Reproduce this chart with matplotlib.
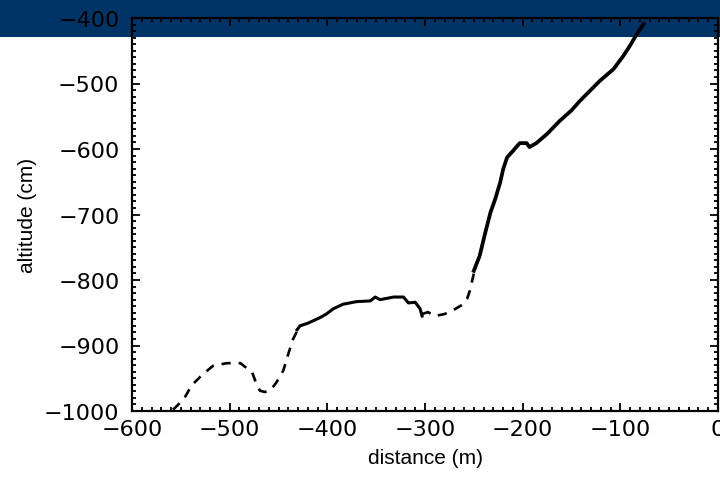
import matplotlib
matplotlib.use("Agg")
import matplotlib.pyplot as plt
from matplotlib.patches import Rectangle
from matplotlib.ticker import MultipleLocator

# profile pieces: distance (m), altitude (cm)
dash1_x = [-558, -547, -539, -529, -517, -503, -489, -477, -472, -469, -464, -458, -452, -445, -440, -435, -431]
dash1_y = [-998, -982, -961, -946, -931, -927, -927, -941, -961, -969, -971, -968, -956, -938, -913, -890, -878]

solid1_x = [-431, -428, -420, -414, -407, -401, -394, -384, -370, -356, -351, -346, -332, -322, -317, -310, -305, -303]
solid1_y = [-876, -870, -866, -862, -857, -852, -844, -837, -833, -832, -826, -830, -826, -826, -835, -834, -844, -855]

dash2_x = [-303, -297, -290, -280, -270, -262, -257, -254, -250]
dash2_y = [-852, -849, -855, -852, -845, -838, -829, -816, -790]

solid2_x = [-250, -244, -239, -233, -228, -223, -220, -216, -210, -203, -196, -193, -186, -175, -162, -150, -141, -121, -107, -97, -90, -83, -76]
solid2_y = [-786, -763, -732, -697, -676, -651, -631, -613, -603, -591, -591, -597, -591, -577, -557, -541, -526, -496, -478, -458, -442, -424, -409]

xticks = [-600, -500, -400, -300, -200, -100, 0]
yticks = [-1000, -900, -800, -700, -600, -500, -400]

fig = plt.figure(figsize=(7.2, 4.85), dpi=100)
fig.patch.set_facecolor("white")
band = 38 / 485
fig.add_artist(Rectangle((0, 1 - band), 1, band, transform=fig.transFigure,
                         facecolor="#003366", edgecolor="none", zorder=-1))

ax = fig.add_axes([132 / 720, 73 / 485, 586 / 720, 393 / 485])
ax.set_facecolor("none")

ax.plot(dash1_x, dash1_y, color="black", lw=1.9, dashes=(3.5, 3))
ax.plot(solid1_x, solid1_y, color="black", lw=2.2)
ax.plot(dash2_x, dash2_y, color="black", lw=1.9, dashes=(3.5, 3))
ax.plot(solid2_x, solid2_y, color="black", lw=2.7)

ax.set_xlim(-600, 0)
ax.set_ylim(-1000, -400)
ax.set_xticks(xticks)
ax.set_yticks(yticks)
ax.xaxis.set_minor_locator(MultipleLocator(10))
ax.yaxis.set_minor_locator(MultipleLocator(10))
ax.tick_params(which="both", direction="in", top=True, right=True, colors="black")
ax.tick_params(which="major", length=6, width=1.3)
ax.tick_params(which="minor", length=3, width=1.3)
ax.tick_params(axis="x", which="major", pad=6)
ax.tick_params(axis="y", which="major", pad=9)
for sp in ax.spines.values():
    sp.set_linewidth(1.6)

for lab in ax.get_xticklabels() + ax.get_yticklabels():
    lab.set_family(["Liberation Sans Narrow", "DejaVu Sans"])
    lab.set_fontsize(16)

ax.set_xlabel("distance (m)", fontsize=15, family=["Liberation Sans", "DejaVu Sans"], labelpad=6)
ax.set_ylabel("altitude (cm)", fontsize=15, family=["Liberation Sans", "DejaVu Sans"], labelpad=5)

fig.savefig("out.png", dpi=100)
